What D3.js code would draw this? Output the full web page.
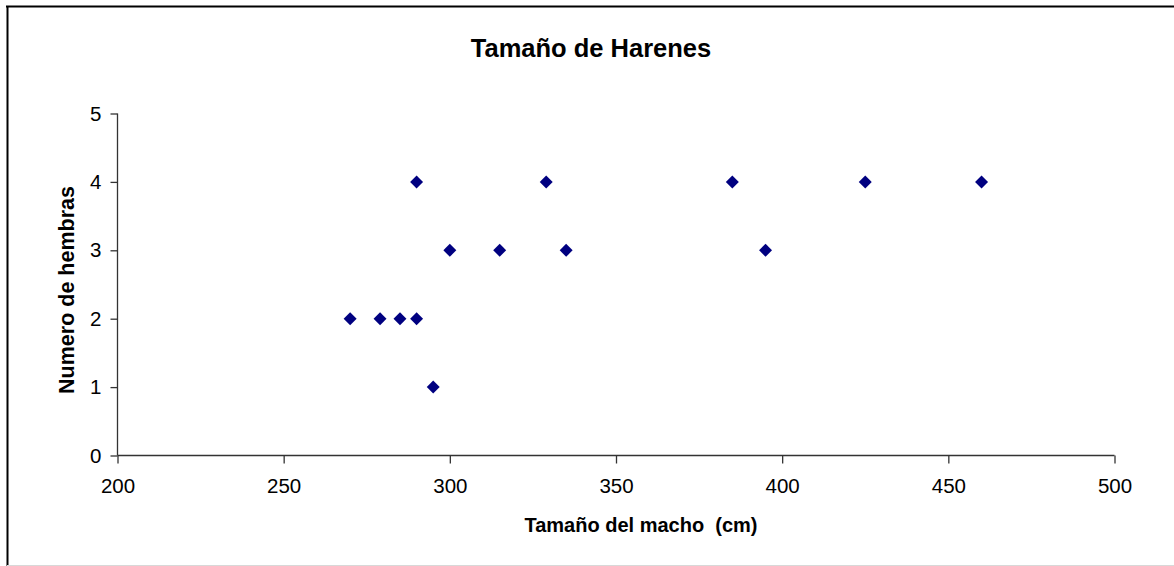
<!DOCTYPE html>
<html>
<head>
<meta charset="utf-8">
<script src="https://cdn.jsdelivr.net/npm/d3@7"></script>
<style>
  html, body { margin: 0; padding: 0; background: #fff; }
  svg text { font-family: "Liberation Sans", Arial, sans-serif; }
</style>
</head>
<body>
<svg id="chart" width="1174" height="566"></svg>
<script>
// Harem size vs. male size
const maleSize   = [270, 279, 285, 290, 290, 295, 300, 315, 329, 335, 385, 395, 425, 460];
const femaleCount = [2,   2,   2,   2,   4,   1,   3,   3,   4,   3,   4,   3,   4,   4];
const xTicks = [200, 250, 300, 350, 400, 450, 500];
const yTicks = [0, 1, 2, 3, 4, 5];

const svg = d3.select("#chart");

// outer frame
svg.append("line").attr("x1", 6).attr("x2", 1174).attr("y1", 6.5).attr("y2", 6.5)
  .attr("stroke", "#000").attr("stroke-width", 2);
svg.append("line").attr("x1", 7.5).attr("x2", 7.5).attr("y1", 6).attr("y2", 566)
  .attr("stroke", "#000").attr("stroke-width", 2);
svg.append("line").attr("x1", 7).attr("x2", 1174).attr("y1", 565.5).attr("y2", 565.5)
  .attr("stroke", "#d8d8d8").attr("stroke-width", 1);

const x = d3.scaleLinear().domain([200, 500]).range([117.5, 1114.5]);
const y = d3.scaleLinear().domain([0, 5]).range([455.5, 113.5]);

// x axis
const gx = svg.append("g").attr("transform", `translate(0,${y(0)})`)
  .call(d3.axisBottom(x).tickValues(xTicks).tickSize(8).tickPadding(15).tickFormat(d3.format("d")));
// y axis
const gy = svg.append("g").attr("transform", `translate(${x(200)},0)`)
  .call(d3.axisLeft(y).tickValues(yTicks).tickSize(7).tickPadding(9).tickFormat(d3.format("d")));

[gx, gy].forEach(g => {
  g.select(".domain").attr("stroke", "#333").attr("stroke-width", 1.3);
  g.selectAll(".tick line").attr("stroke", "#333").attr("stroke-width", 1.3);
  g.selectAll(".tick text").attr("font-size", 20.5).attr("fill", "#000")
    .attr("font-family", "'Liberation Sans', Arial, sans-serif");
});
gx.select(".domain").attr("d", `M${x(200)},0H${x(500)}`);
gy.select(".domain").attr("d", `M0,${y(0)}V${y(5)}`);

// points (diamonds)
const diamond = d3.symbol().type(d3.symbolSquare).size(84);
svg.append("g").selectAll("path")
  .data(maleSize.map((m, i) => ({ m, f: femaleCount[i] })))
  .join("path")
  .attr("d", diamond)
  .attr("transform", d => `translate(${x(d.m)},${y(d.f)}) rotate(45)`)
  .attr("fill", "#000080");

// titles
svg.append("text").attr("x", 591).attr("y", 56.5).attr("text-anchor", "middle")
  .attr("font-size", 25.5).attr("font-weight", "bold").text("Tamaño de Harenes");
svg.append("text").attr("x", 641).attr("y", 532).attr("text-anchor", "middle")
  .attr("font-size", 20).attr("font-weight", "bold").attr("xml:space", "preserve")
  .text("Tamaño del macho  (cm)");
svg.append("text").attr("transform", "translate(74,290) rotate(-90)").attr("text-anchor", "middle")
  .attr("font-size", 21.5).attr("font-weight", "bold").text("Numero de hembras");
</script>
</body>
</html>
